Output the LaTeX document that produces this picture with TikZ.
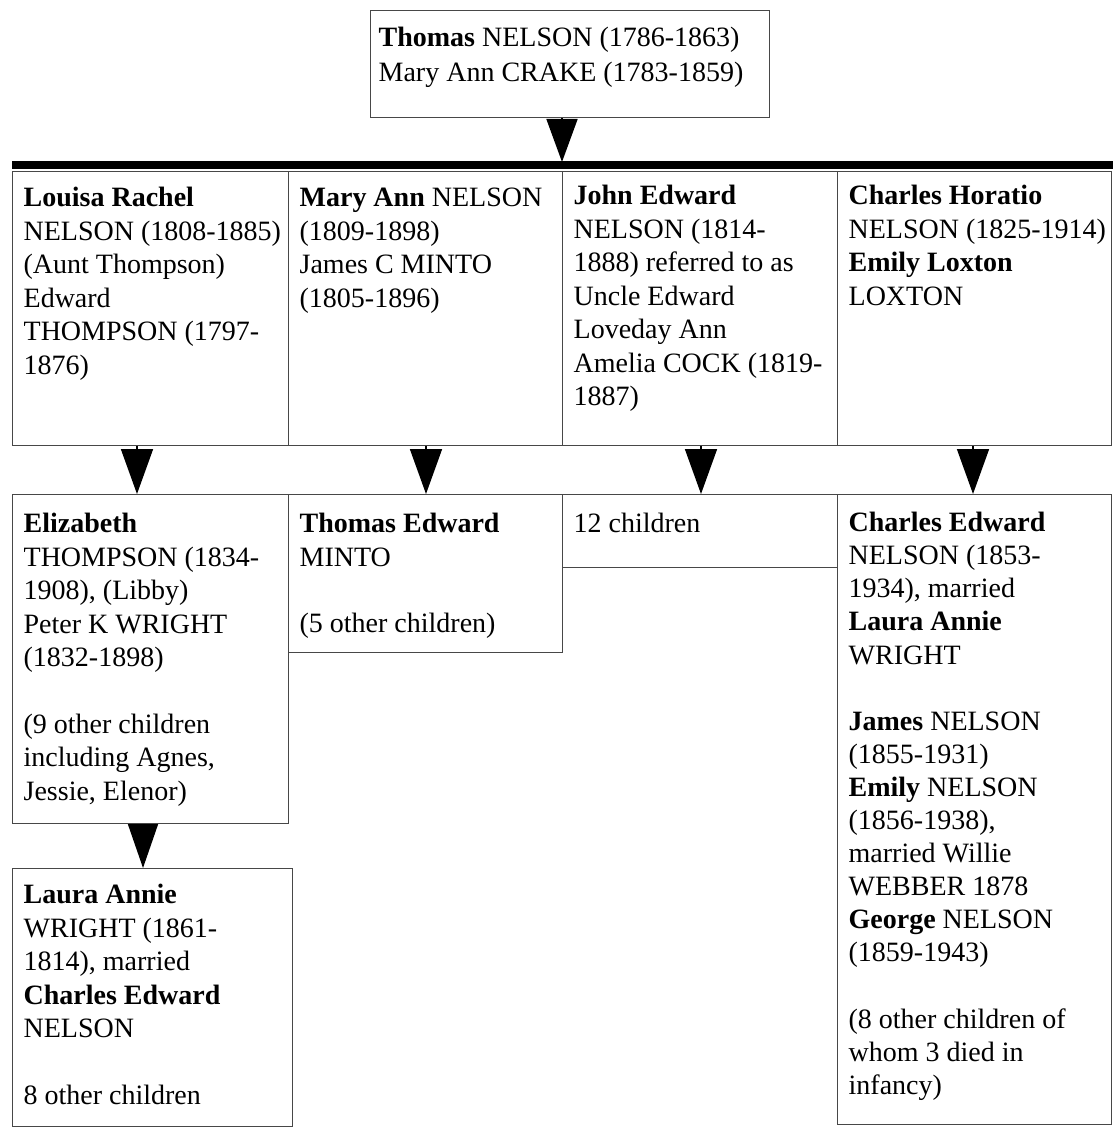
\documentclass[tikz,border=0pt]{standalone}
\usepackage{fontspec}
\setmainfont{Liberation Serif}
\usetikzlibrary{arrows.meta}
\newcommand{\fambox}[4][36pt]{\parbox[c][#3][t]{#2}{\fontsize{28pt}{33.5pt}\selectfont\raggedright\leftskip=11pt\rule{0pt}{#1}#4}}
\tikzset{
  fam/.style={draw=black!72, line width=1.3pt, anchor=north west, inner sep=0pt, fill=white},
  arr/.style={line width=1.6pt, -{Triangle[length=45pt,width=32pt]}},
}
\begin{document}
\begin{tikzpicture}[x=1pt,y=-1pt]
\useasboundingbox[fill=white] (0,0) rectangle (1113,1129);
% parents
\node[fam] (T) at (370,10) {\fambox[36pt]{399pt}{107pt}{\leftskip=8pt\textbf{Thomas} NELSON (1786-1863)\\[1.5pt] Mary Ann CRAKE (1783-1859)}};
% bar
\coordinate (barL) at (12,165);
\coordinate (barR) at (1113,165);
\draw[line width=8pt] (barL) -- (barR);
\coordinate (barhit) at (562,162);
% row 1
\node[fam] (R1) at (12,171) {\fambox[35pt]{276pt}{274pt}{\textbf{Louisa Rachel}\\ NELSON (1808-1885)\\ (Aunt Thompson)\\ Edward\\ THOMPSON (1797-\\ 1876)}};
\node[fam] (R2) at (288,171) {\fambox[35pt]{274pt}{274pt}{\textbf{Mary Ann} NELSON\\ (1809-1898)\\ James C MINTO\\ (1805-1896)}};
\node[fam] (R3) at (562,171) {\fambox[33pt]{275pt}{274pt}{\textbf{John Edward}\\ NELSON (1814-\\ 1888) referred to as\\ Uncle Edward\\ Loveday Ann\\ Amelia COCK (1819-\\ 1887)}};
\node[fam] (R4) at (837,171) {\fambox[33pt]{274pt}{274pt}{\textbf{Charles Horatio}\\ NELSON (1825-1914)\\ \textbf{Emily Loxton}\\ LOXTON}};
% row 2
\node[fam] (A) at (12,494) {\fambox[38pt]{276pt}{329pt}{\textbf{Elizabeth}\\ THOMPSON (1834-\\ 1908), (Libby)\\ Peter K WRIGHT\\ (1832-1898)\\[33.2pt] (9 other children\\ including Agnes,\\ Jessie, Elenor)}};
\node[fam] (B) at (288,494) {\fambox[38pt]{274pt}{158pt}{\textbf{Thomas Edward}\\ MINTO\\[33.2pt] (5 other children)}};
\node[fam] (C) at (562,494) {\fambox[38pt]{275pt}{73pt}{12 children}};
\node[fam] (D) at (837,494) {\fambox[37pt]{274pt}{630pt}{\fontsize{28pt}{33.1pt}\selectfont\textbf{Charles Edward}\\ NELSON (1853-\\ 1934), married\\ \textbf{Laura Annie}\\ WRIGHT\\[33.1pt] \textbf{James} NELSON\\ (1855-1931)\\ \textbf{Emily} NELSON\\ (1856-1938),\\ married Willie\\ WEBBER 1878\\ \textbf{George} NELSON\\ (1859-1943)\\[33.1pt] (8 other children of\\ whom 3 died in\\ infancy)}};
% row 3
\node[fam] (E) at (12,868) {\fambox[35pt]{280pt}{258pt}{\textbf{Laura Annie}\\ WRIGHT (1861-\\ 1814), married\\ \textbf{Charles Edward}\\ NELSON\\[33.5pt] 8 other children}};
% connector x positions
\coordinate (xa) at (137,0);
\coordinate (xb) at (426,0);
\coordinate (xc) at (701,0);
\coordinate (xd) at (973,0);
\coordinate (xe) at (143,0);
\draw[arr, -{Triangle[length=43pt,width=31pt]}] (T.south -| barhit) -- (barhit);
\draw[arr] (R1.south -| xa) -- (A.north -| xa);
\draw[arr] (R2.south -| xb) -- (B.north -| xb);
\draw[arr] (R3.south -| xc) -- (C.north -| xc);
\draw[arr] (R4.south -| xd) -- (D.north -| xd);
\draw[arr, -{Triangle[length=44pt,width=30pt]}] (A.south -| xe) -- (E.north -| xe);
\end{tikzpicture}
\end{document}
